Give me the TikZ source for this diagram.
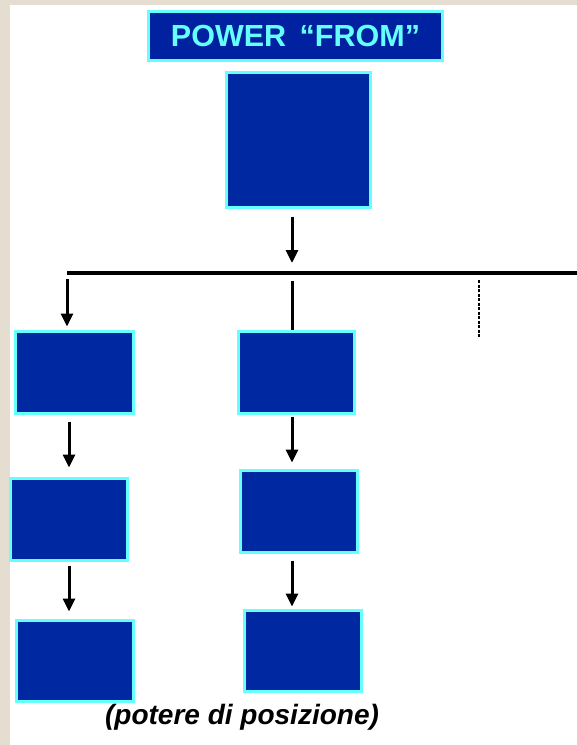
\documentclass[tikz,border=0pt]{standalone}
\usepackage{fontspec}
\setmainfont{Liberation Sans}
\usepackage{xcolor}
\usepackage{tikz}
\usetikzlibrary{arrows.meta,positioning}
\definecolor{boxblue}{HTML}{0028A0}
\definecolor{titleblue}{HTML}{0022A0}
\definecolor{rim}{HTML}{66FFFF}
\definecolor{paper}{HTML}{E5DDD0}

\begin{document}
\begin{tikzpicture}[
  x=1pt, y=-1pt,
  unit/.style={draw=rim, fill=boxblue, line width=3pt, inner sep=0pt,
               minimum width=117pt, minimum height=82pt},
  head/.style={draw=rim, fill=titleblue, line width=3pt, inner sep=0pt,
               minimum width=294pt, minimum height=49pt, text=rim,
               font=\fontsize{30.5}{33}\selectfont\bfseries},
  ar/.style ={-{Triangle[length=13pt,width=12pt]}, line width=3pt},
  bar/.style={line width=4pt}
]
\fill[paper] (0,0) rectangle (577,745);
\fill[white] (10,5) rectangle (577,745);
\useasboundingbox (0,0) rectangle (577,745);
\node[head] (title) at (295.5,36) {POWER \,“FROM”};
\node[unit, minimum width=144pt, minimum height=135pt] (top) at (298.5,140) {};
\node[unit, minimum width=118pt] (l1) at (74.5,372.5) {};
\node[unit] (l2) at (69,519.5) {};
\node[unit, minimum height=81pt] (l3) at (75,661) {};
\node[unit, minimum width=116pt] (m1) at (296.5,372.5) {};
\node[unit] (m2) at (299,511.5) {};
\node[unit, minimum height=81pt] (m3) at (303,651) {};
\node[font=\fontsize{28}{32}\selectfont\bfseries\itshape] (note) at (242,717) {(potere di posizione)};
\coordinate (axis) at (292,0);
\coordinate (barL) at (67,273);
\coordinate (barR) at (577,273);
\coordinate (dtop) at (479,280);
\coordinate (dbot) at (479,337);
\draw[bar] (barL) -- (barR);
\draw[ar, shorten <=7.5pt, shorten >=10pt] (top.south -| axis) -- (axis |- barL);
\draw[ar, shorten <=6pt, shorten >=3.5pt] (barL) -- (barL |- l1.north);
\draw[line width=3pt, shorten <=8pt] (axis |- barL) -- (m1.north -| axis);
\draw[line width=1.5pt, dash pattern=on 3pt off 1.5pt] (dtop) -- (dbot);
\draw[ar, shorten <=6.5pt, shorten >=9.5pt] (l1.south -| l2.north) -- (l2.north);
\draw[ar, shorten <=3.5pt, shorten >=7.5pt] (l2.south) -- (l2.south |- l3.north);
\draw[ar, shorten <=1.5pt, shorten >=6.5pt] (m1.south -| axis) -- (m2.north -| axis);
\draw[ar, shorten <=6.5pt, shorten >=2.5pt] (m2.south -| axis) -- (m3.north -| axis);
\end{tikzpicture}
\end{document}
